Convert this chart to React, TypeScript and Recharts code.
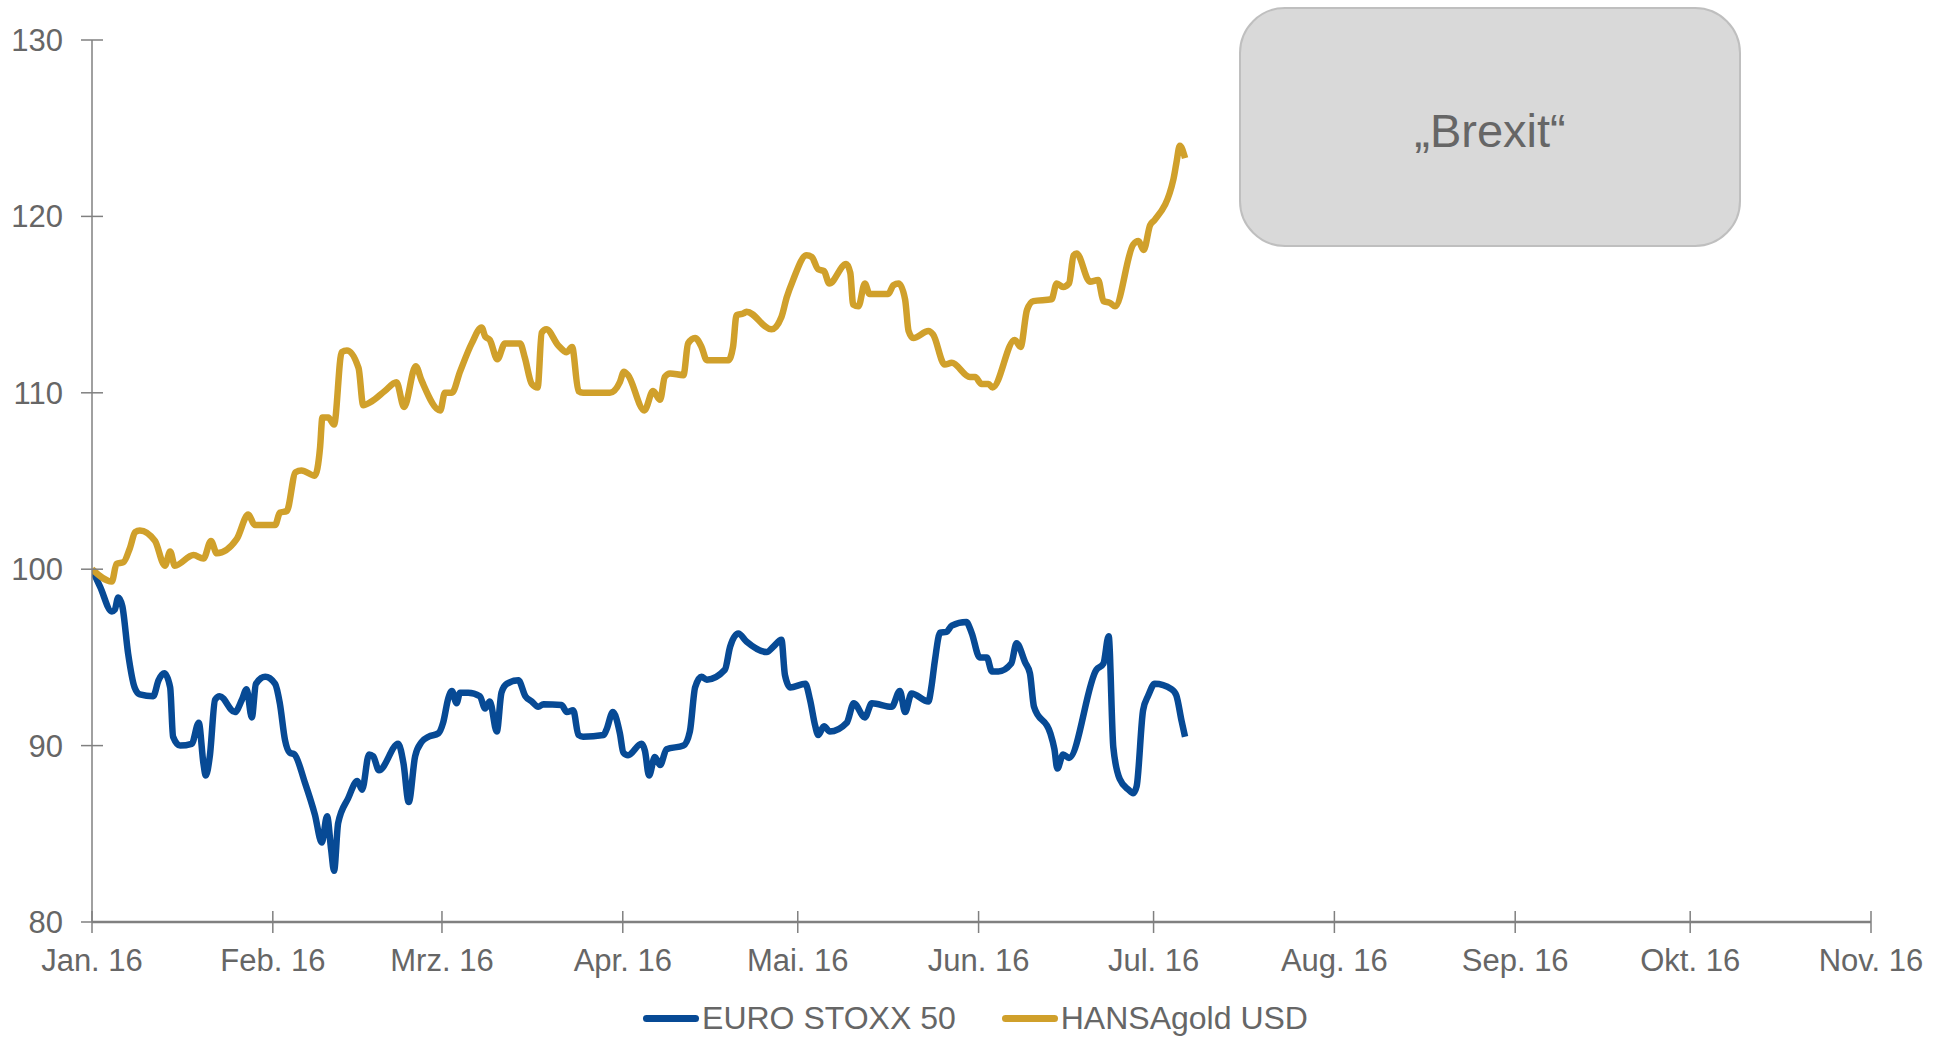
import { Legend, Line, LineChart, XAxis, YAxis } from "recharts";

// x positions are days counted from 1 Jan 2016
const monthTicks = [0, 31, 60, 91, 121, 152, 182, 213, 244, 274, 305];
const monthLabels = ["Jan. 16", "Feb. 16", "Mrz. 16", "Apr. 16", "Mai. 16", "Jun. 16", "Jul. 16", "Aug. 16", "Sep. 16", "Okt. 16", "Nov. 16"];
const valueTicks = [80, 90, 100, 110, 120, 130];

const euroDays = [
    0, 1.4, 3.4, 3.9, 4.5, 5.2, 6.2, 7.3, 8.2, 10.5, 11.4, 12.4, 13.4, 13.9, 15.1, 17.1, 18.3, 19.1, 19.5, 20.2,
    21.1, 21.9, 24.5, 25.7, 26.5, 27.4, 28.1, 29.7, 31.4, 32.2, 33.1, 33.9, 34.7, 36.5, 38.2, 39.4, 40.3, 41.0, 41.5, 42.2,
    43.9, 45.5, 46.3, 47.5, 48.2, 49.2, 52.5, 53.4, 54.3, 55.4, 56.5, 57.7, 59.4, 60.2, 61.1, 61.7, 62.5, 63.1, 64.5, 66.5,
    67.4, 68.2, 69.4, 70.2, 71.1, 73.1, 74.3, 75.4, 76.5, 77.4, 80.5, 81.4, 82.5, 83.4, 84.2, 87.7, 88.2, 89.3, 90.5, 91.1,
    91.9, 94.2, 94.8, 95.5, 96.5, 97.4, 98.5, 101.4, 102.5, 103.4, 104.5, 105.4, 108.5, 109.4, 110.8, 112.2, 115.7, 116.8, 118.2, 118.8,
    119.7, 122.3, 123.1, 124.0, 124.5, 125.5, 126.5, 129.4, 130.6, 132.5, 133.7, 137.1, 138.5, 139.4, 140.5, 143.4, 143.9, 144.5, 145.4, 146.5,
    147.4, 149.9, 150.8, 152.2, 153.4, 154.3, 155.4, 157.6, 158.5, 160.0, 160.8, 161.5, 164.3, 165.0, 165.5, 166.5, 167.5, 172.2, 173.4, 174.3,
    175.1, 176.2, 177.7, 178.5, 179.1, 180.2, 181.1, 182.2, 185.1, 185.9, 186.8, 187.4,
];
const euroValues = [
    100.0, 99.0, 97.6, 97.7, 98.4, 97.9, 95.2, 93.3, 92.9, 92.8, 93.7, 94.1, 93.3, 90.5, 90.0, 90.1, 91.3, 89.0, 88.3, 89.4,
    92.6, 92.8, 91.9, 92.6, 93.2, 91.6, 93.5, 93.9, 93.5, 92.4, 90.3, 89.6, 89.5, 87.9, 86.1, 84.5, 86.0, 84.1, 82.9, 85.6,
    87.0, 88.0, 87.5, 89.5, 89.4, 88.6, 90.1, 89.0, 86.8, 89.4, 90.2, 90.5, 90.7, 91.3, 92.7, 93.1, 92.4, 93.0, 93.0, 92.8,
    92.1, 92.5, 90.8, 93.0, 93.5, 93.7, 92.8, 92.5, 92.2, 92.35, 92.3, 91.9, 92.0, 90.6, 90.5, 90.6, 90.9, 91.9, 90.7, 89.6,
    89.45, 90.1, 89.7, 88.3, 89.36, 88.9, 89.8, 90.0, 90.8, 93.3, 93.9, 93.74, 94.3, 95.6, 96.35, 95.9, 95.3, 95.6, 96.0, 94.0,
    93.3, 93.5, 92.6, 91.1, 90.6, 91.1, 90.8, 91.3, 92.4, 91.6, 92.4, 92.2, 93.1, 91.9, 92.95, 92.5, 93.3, 94.8, 96.4, 96.45,
    96.8, 97.0, 96.4, 95.0, 95.0, 94.2, 94.2, 94.65, 95.8, 94.7, 94.1, 92.2, 90.7, 89.8, 88.7, 89.5, 89.3, 94.3, 94.65, 96.2,
    89.9, 88.1, 87.5, 87.3, 87.7, 92.0, 92.85, 93.5, 93.2, 92.85, 91.4, 90.5,
];

const goldDays = [
    0, 3.4, 4.2, 5.4, 6.5, 7.4, 8.2, 10.8, 12.5, 13.4, 14.2, 17.4, 19.1, 20.4, 21.4, 24.8, 26.8, 27.9, 31.4, 32.2,
    33.4, 34.9, 35.9, 38.2, 39.1, 39.5, 40.5, 41.5, 42.8, 43.7, 45.7, 46.5, 47.9, 50.2, 52.2, 53.5, 55.5, 56.5, 59.7, 60.5,
    61.7, 63.1, 65.1, 66.8, 67.4, 68.2, 69.5, 70.8, 73.4, 74.2, 75.4, 76.4, 77.1, 77.9, 79.9, 81.4, 82.3, 83.4, 84.2, 88.8,
    90.5, 91.2, 91.9, 94.7, 96.2, 97.4, 98.2, 99.1, 101.4, 102.2, 103.4, 104.5, 105.4, 109.1, 109.9, 110.5, 111.7, 112.2, 116.5, 118.2,
    119.1, 120.2, 122.5, 123.4, 124.5, 125.5, 126.4, 129.3, 130.0, 130.5, 131.4, 132.5, 133.3, 136.5, 137.4, 138.3, 139.4, 140.0, 140.8, 143.4,
    144.2, 146.2, 147.4, 150.5, 151.4, 152.5, 153.7, 154.4, 158.2, 159.2, 160.3, 161.4, 164.5, 165.4, 166.5, 167.5, 168.3, 168.8, 171.1, 172.5,
    173.4, 174.5, 175.4, 178.5, 179.4, 180.3, 181.4, 182.2, 185.4, 185.9, 186.5, 187.4,
];
const goldValues = [
    100.0, 99.3, 100.3, 100.4, 101.2, 102.1, 102.2, 101.6, 100.2, 101.0, 100.2, 100.8, 100.6, 101.6, 100.9, 101.7, 103.1, 102.5, 102.5, 103.2,
    103.3, 105.5, 105.6, 105.3, 106.9, 108.6, 108.6, 108.2, 112.3, 112.4, 111.4, 109.3, 109.5, 110.1, 110.6, 109.2, 111.5, 110.7, 109.0, 110.0,
    110.0, 111.2, 112.8, 113.7, 113.2, 113.0, 111.9, 112.8, 112.8, 112.0, 110.5, 110.3, 113.4, 113.6, 112.7, 112.3, 112.6, 110.1, 110.0, 110.0,
    110.6, 111.2, 111.0, 109.0, 110.1, 109.6, 110.9, 111.1, 111.0, 112.8, 113.1, 112.6, 111.85, 111.85, 112.6, 114.4, 114.5, 114.6, 113.6, 114.3,
    115.4, 116.4, 117.8, 117.7, 117.0, 116.9, 116.2, 117.3, 116.8, 115.0, 114.9, 116.2, 115.6, 115.6, 116.1, 116.2, 115.3, 113.5, 113.1, 113.5,
    113.3, 111.6, 111.7, 110.9, 110.9, 110.5, 110.5, 110.3, 113.0, 112.6, 114.7, 115.2, 115.3, 116.2, 116.0, 116.2, 117.8, 117.9, 116.3, 116.4,
    115.2, 115.1, 114.9, 118.4, 118.6, 118.1, 119.5, 119.8, 122.1, 123.0, 124.0, 123.3,
];

const euroData = euroDays.map((day, i) => ({ day, euro: euroValues[i] }));
const goldData = goldDays.map((day, i) => ({ day, gold: goldValues[i] }));

const FONT = "'Liberation Sans', Arial, sans-serif";
const GREY = "#666666";
const AXIS = "#808080";

function XTick(props: any) {
    const { x, y, payload } = props;
    const label = monthLabels[monthTicks.indexOf(payload.value)];
    return (
        <g>
            <line x1={x} x2={x} y1={y - 11} y2={y + 11} stroke={AXIS} strokeWidth={1.5} />
            <text x={x} y={y + 49} textAnchor="middle" fill={GREY} fontSize={31} fontFamily={FONT}>{label}</text>
        </g>
    );
}

function YTick(props: any) {
    const { x, y, payload } = props;
    return (
        <g>
            <line x1={x - 11} x2={x + 11} y1={y} y2={y} stroke={AXIS} strokeWidth={1.5} />
            <text x={x - 29} y={y + 11} textAnchor="end" fill={GREY} fontSize={31} fontFamily={FONT}>{payload.value}</text>
        </g>
    );
}

export default function App() {
    return (
        <div style={{ position: "absolute", left: 0, top: 0, width: 1951, height: 1037 }}>
            <LineChart width={1951} height={1037} margin={{ top: 40, right: 80, bottom: 55, left: 0 }} style={{ fontFamily: FONT }}>
                <XAxis dataKey="day" type="number" domain={[0, 305]} ticks={monthTicks} interval={0}
                    tickSize={0} tickMargin={0} tickLine={false} height={60}
                    axisLine={{ stroke: AXIS, strokeWidth: 2.5 }} tick={<XTick />} allowDataOverflow />
                <YAxis type="number" domain={[80, 130]} ticks={valueTicks} interval={0} width={92}
                    tickSize={0} tickMargin={0} tickLine={false}
                    axisLine={{ stroke: AXIS, strokeWidth: 1.5 }} tick={<YTick />} />
                <Line data={euroData} dataKey="euro" name="EURO STOXX 50" type="monotone" stroke="#074A95"
                    strokeWidth={6.5} dot={false} activeDot={false} isAnimationActive={false} />
                <Line data={goldData} dataKey="gold" name="HANSAgold USD" type="monotone" stroke="#D0A02B"
                    strokeWidth={6.5} dot={false} activeDot={false} isAnimationActive={false} />
                <g>
                    <rect x={1240} y={8} width={500} height={238} rx={45} ry={45} fill="#D9D9D9" stroke="#BFBFBF" strokeWidth={2} />
                    <text x={1490} y={147} textAnchor="middle" fill={GREY} fontSize={47} fontFamily={FONT}>„Brexit“</text>
                </g>
                <Legend verticalAlign="middle" align="center" layout="horizontal"
                    wrapperStyle={{ top: 999, left: 0, width: 1951, height: 38 }}
                    content={(props: any) => (
                        <div style={{ display: "flex", justifyContent: "center", gap: 46, fontFamily: FONT, fontSize: 32, lineHeight: "38px", color: GREY }}>
                            {(props.payload || []).map((item: any) => (
                                <div key={item.value} style={{ display: "flex", alignItems: "center" }}>
                                    <span style={{ display: "inline-block", width: 56, height: 7, borderRadius: 3.5, background: item.color, marginRight: 3 }} />
                                    <span>{item.value}</span>
                                </div>
                            ))}
                        </div>
                    )} />
            </LineChart>
        </div>
    );
}
